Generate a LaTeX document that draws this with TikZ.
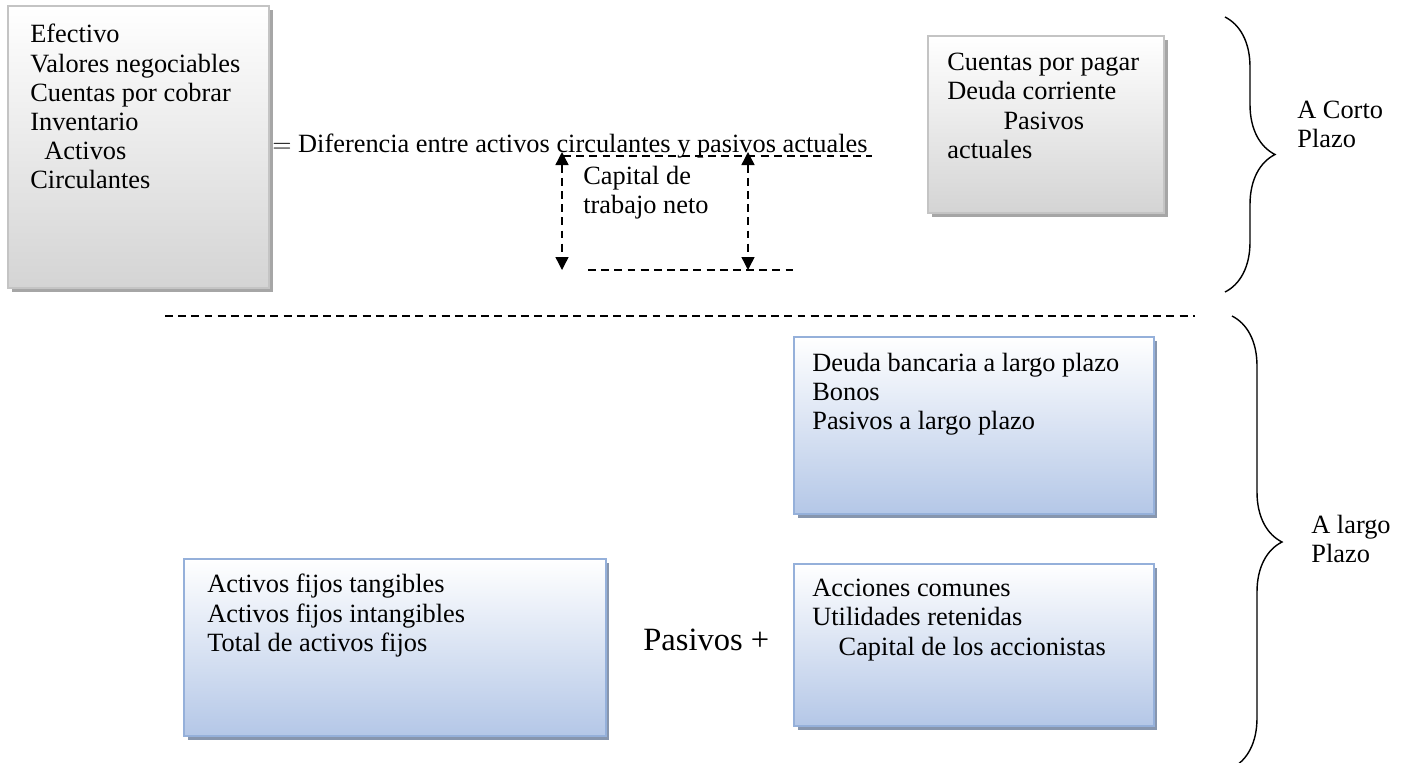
\documentclass[tikz,border=0pt]{standalone}
\usepackage{fontspec}
\setmainfont{Liberation Serif}
\usetikzlibrary{arrows.meta,positioning,shadows,decorations.pathreplacing}
\definecolor{grisborde}{HTML}{C4C4C4}
\definecolor{grisfondo}{HTML}{D4D4D4}
\definecolor{grissombra}{HTML}{A6A6A6}
\definecolor{azulborde}{HTML}{95B0DA}
\definecolor{azulfondo}{HTML}{B4C7E7}
\definecolor{azulsombra}{HTML}{8796AE}
\begin{document}
\begin{tikzpicture}[x=0.02cm,y=-0.02cm,
font=\fontsize{15}{16.6}\selectfont,
caja/.style={anchor=north west,inner sep=0pt,line width=1.2pt,top color=white},
gris/.style={caja,draw=grisborde,bottom color=grisfondo,drop shadow={shadow xshift=0.07cm,shadow yshift=-0.07cm,fill=grissombra,opacity=1}},
azul/.style={caja,draw=azulborde,bottom color=azulfondo,drop shadow={shadow xshift=0.07cm,shadow yshift=-0.07cm,fill=azulsombra,opacity=1}},
txt/.style={align=left,anchor=north west,inner sep=0pt},
punteada/.style={dash pattern=on 4.5pt off 3pt,line width=0.8pt},
flecha/.style={punteada,{Triangle[length=2.6mm,width=2.6mm]}-{Triangle[length=2.6mm,width=2.6mm]}},
llave/.style={decorate,decoration={brace,amplitude=1cm},line width=0.8pt}]
\useasboundingbox (0,0) rectangle (1409,762);
% corto plazo
\node[gris,minimum width=5.22cm,minimum height=5.64cm](circ)at(7,5){};
\node[txt](circtxt)at([shift={(23,19)}]circ.north west){Efectivo\\Valores negociables\\Cuentas por cobrar\\Inventario\\\hspace*{8pt}Activos\\Circulantes};
\node[gris,minimum width=4.72cm,minimum height=3.54cm](pasact)at(927,35){};
\node[txt](pasacttxt)at([shift={(20,18)}]pasact.north west){Cuentas por pagar\\Deuda corriente\\\hspace*{32pt}Pasivos\\actuales};
\node[anchor=west,inner sep=0pt](dif)at(272,146){$=$ Diferencia entre activos circulantes y pasivos actuales};
\node[txt](ctn)at(583,166){Capital de\\trabajo neto};
\coordinate(a1)at(562,152);\coordinate(a2)at(562,270);
\coordinate(b1)at(748,152);\coordinate(b2)at(748,270);
\coordinate(c1)at(563,156);\coordinate(c2)at(872,156);
\coordinate(d1)at(588,270);\coordinate(d2)at(793,270);
\draw[flecha](a1)--(a2);\draw[flecha](b1)--(b2);
\draw[punteada](c1)--(c2);\draw[punteada](d1)--(d2);
% separacion
\coordinate(s1)at(165,316);\coordinate(s2)at(1195,316);
\draw[punteada](s1)--(s2);
% largo plazo
\node[azul,minimum width=7.2cm,minimum height=3.54cm](paslp)at(793,336){};
\node[txt](paslptxt)at([shift={(19,17)}]paslp.north west){Deuda bancaria a largo plazo\\Bonos\\Pasivos a largo plazo};
\node[azul,minimum width=7.2cm,minimum height=3.24cm](capital)at(793,563){};
\node[txt](capitaltxt)at([shift={(19,16)}]capital.north west){Acciones comunes\\Utilidades retenidas\\\hspace*{15pt}Capital de los accionistas};
\node[azul,minimum width=8.44cm,minimum height=3.54cm](fijos)at(183,558){};
\node[txt](fijostxt)at([shift={(24,16)}]fijos.north west){Activos fijos tangibles\\Activos fijos intangibles\\Total de activos fijos};
\node[anchor=west,inner sep=0pt,font=\fontsize{18.5}{22}\selectfont](pasmas)at(643,640){Pasivos +};
% llaves
\coordinate(l1)at(1225,17);\coordinate(l2)at(1225,292);
\coordinate(l3)at(1232,316);\coordinate(l4)at(1232,768);
\draw[llave](l1)--(l2);\draw[llave](l3)--(l4);
\node[txt](corto)at(1297,101){A Corto\\Plazo};
\node[txt](largo)at(1311,515){A largo\\Plazo};
\end{tikzpicture}
\end{document}
